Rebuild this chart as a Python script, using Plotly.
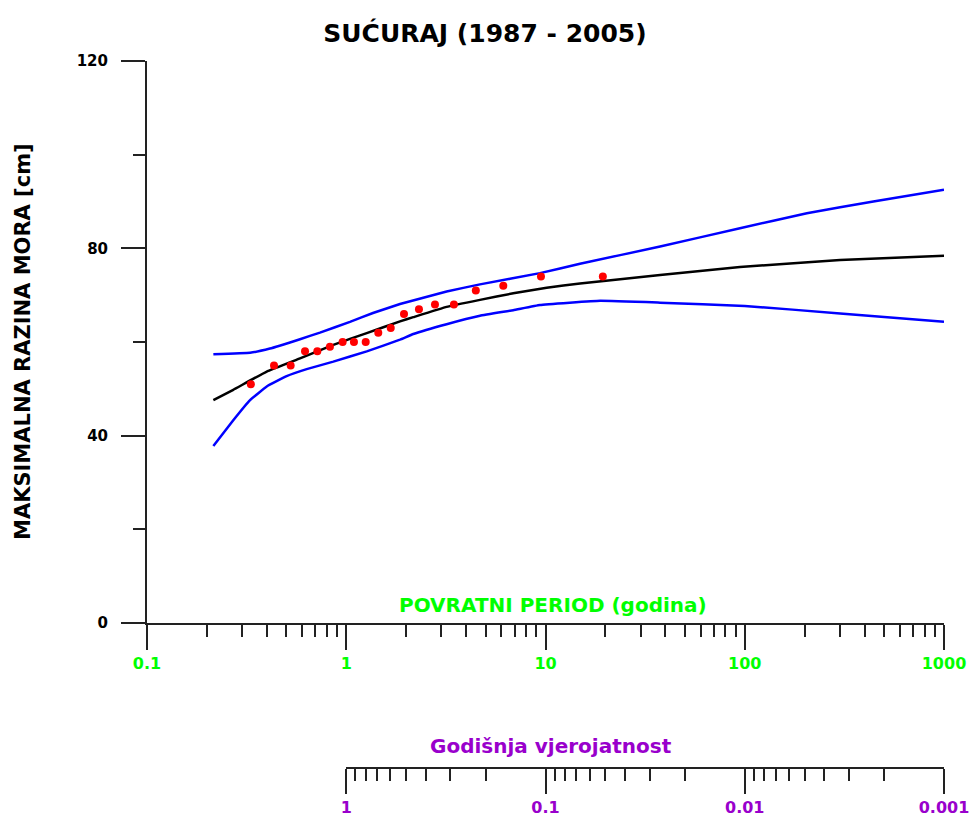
import plotly.graph_objects as go

# ---- data ----
fit_T = [0.2153, 0.271, 0.399, 0.586, 0.861, 1.267, 1.861, 2.17, 3.19, 4.69, 6.89, 10.14, 14.9, 37.6, 94.6, 301, 1000]
fit_val = [47.6, 49.8, 53.7, 56.5, 59.4, 61.9, 64.4, 65.3, 67.5, 69.0, 70.4, 71.6, 72.5, 74.3, 76.0, 77.5, 78.4]

upper_T = [0.2153, 0.329, 0.414, 0.586, 0.738, 1.044, 1.362, 1.861, 3.19, 4.69, 9.38, 14.9, 37.6, 94.6, 205, 442, 1000]
upper_val = [57.4, 57.7, 58.6, 60.6, 62.0, 64.3, 66.2, 68.1, 70.8, 72.3, 74.7, 76.7, 80.4, 84.3, 87.5, 90.0, 92.5]

lower_T = [0.2153, 0.271, 0.329, 0.399, 0.502, 0.633, 0.861, 1.267, 1.861, 2.17, 3.19, 4.69, 6.89, 9.38, 18.8, 37.6, 100, 301, 1000]
lower_val = [37.8, 43.3, 47.6, 50.5, 52.7, 54.2, 55.8, 58.0, 60.5, 61.7, 63.8, 65.6, 66.8, 67.9, 68.8, 68.4, 67.7, 66.1, 64.3]

obs_T = [0.332, 0.434, 0.526, 0.621, 0.716, 0.828, 0.959, 1.093, 1.252, 1.448, 1.672, 1.949, 2.317, 2.788, 3.47, 4.47, 6.14, 9.49, 19.4]
obs_val = [51, 55, 55, 58, 58, 59, 60, 60, 60, 62, 63, 66, 67, 68, 68, 71, 72, 74, 74]

period_ticks = [0.1, 1, 10, 100, 1000]
period_labels = ["0.1", "1", "10", "100", "1000"]
period_minor = [m * 10 ** e for e in range(-1, 3) for m in range(2, 10)]

prob_ticks = [1, 0.1, 0.01, 0.001]
prob_labels = ["1", "0.1", "0.01", "0.001"]
prob_minor = [m * 10 ** e for e in range(-3, 0) for m in range(2, 10)]

y_ticks = [0, 40, 80, 120]
y_minor = [20, 60, 100]

FONT = "DejaVu Sans"
GREEN = "#00FF00"
PURPLE = "#9900CC"
AX = "#222222"

fig = go.Figure()
fig.add_trace(go.Scatter(x=upper_T, y=upper_val, mode="lines",
                         line=dict(color="#0000FF", width=2.5, shape="spline", smoothing=0.25),
                         showlegend=False, hoverinfo="skip"))
fig.add_trace(go.Scatter(x=lower_T, y=lower_val, mode="lines",
                         line=dict(color="#0000FF", width=2.5, shape="spline", smoothing=0.25),
                         showlegend=False, hoverinfo="skip"))
fig.add_trace(go.Scatter(x=fit_T, y=fit_val, mode="lines",
                         line=dict(color="#000000", width=2.5, shape="spline", smoothing=0.25),
                         showlegend=False, hoverinfo="skip"))
fig.add_trace(go.Scatter(x=obs_T, y=obs_val, mode="markers",
                         marker=dict(color="#FF0000", size=8, line=dict(width=0)),
                         showlegend=False))
# placeholder trace so the probability axis is drawn
fig.add_trace(go.Scatter(x=[None], y=[None], xaxis="x2", yaxis="y", showlegend=False, hoverinfo="skip"))

d = 145 / 707.0
tickfont = lambda size, color: dict(family=FONT, size=size, color=color, weight="bold")

fig.update_layout(
    width=970, height=823,
    margin=dict(l=147, r=26, t=61, b=55, autoexpand=False),
    paper_bgcolor="white", plot_bgcolor="rgba(0,0,0,0)",
    title=dict(text="<b>SUĆURAJ (1987 - 2005)</b>", x=0.5, xref="container", xanchor="center",
               y=1 - 33 / 823, yref="container", yanchor="middle",
               font=dict(family=FONT, size=25, color="black")),
    xaxis=dict(type="log", range=[-1, 3], domain=[0, 1], anchor="y", automargin=False,
               showline=True, linecolor=AX, linewidth=2, showgrid=False, zeroline=False,
               ticks="outside", ticklen=25, tickwidth=1.5, tickcolor=AX,
               tickvals=period_ticks, ticktext=period_labels,
               tickfont=tickfont(16, GREEN),
               minor=dict(tickvals=period_minor, ticks="outside", ticklen=12, tickwidth=1.5,
                          tickcolor=AX, showgrid=False)),
    xaxis2=dict(type="log", range=[0, -3], domain=[0.25, 1], anchor="free", position=0,
                automargin=False,
                showline=True, linecolor=AX, linewidth=2, showgrid=False, zeroline=False,
                ticks="outside", ticklen=25, tickwidth=1.5, tickcolor=AX,
                tickvals=prob_ticks, ticktext=prob_labels,
                tickfont=tickfont(16, PURPLE),
                minor=dict(tickvals=prob_minor, ticks="outside", ticklen=12, tickwidth=1.5,
                           tickcolor=AX, showgrid=False)),
    yaxis=dict(range=[0, 120], domain=[d, 1], anchor="x", automargin=False,
               showline=True, linecolor=AX, linewidth=2, showgrid=False, zeroline=False,
               ticks="outside", ticklen=24, tickwidth=1.5, tickcolor=AX,
               tickvals=y_ticks, ticktext=[str(v) for v in y_ticks],
               tickfont=tickfont(15, "black"),
               ticklabelstandoff=10,
               minor=dict(tickvals=y_minor, ticks="outside", ticklen=12, tickwidth=1.5,
                          tickcolor=AX, showgrid=False)),
    annotations=[
        dict(text="<b>POVRATNI PERIOD (godina)</b>", xref="paper", yref="paper",
             x=(553 - 147) / 797, y=(768 - 605) / 707, xanchor="center", yanchor="middle",
             showarrow=False, font=dict(family=FONT, size=20, color=GREEN)),
        dict(text="<b>Godišnja vjerojatnost</b>", xref="paper", yref="paper",
             x=(551 - 147) / 797, y=(768 - 746) / 707, xanchor="center", yanchor="middle",
             showarrow=False, font=dict(family=FONT, size=20, color=PURPLE)),
        dict(text="<b>MAKSIMALNA RAZINA MORA [cm]</b>", xref="paper", yref="paper",
             x=(23 - 147) / 797, y=(768 - 342) / 707, xanchor="center", yanchor="middle",
             textangle=-90, showarrow=False, font=dict(family=FONT, size=21, color="black")),
    ],
)

fig.write_html("out.html", config={"displayModeBar": False},
               post_script="document.body.style.margin='0';")
